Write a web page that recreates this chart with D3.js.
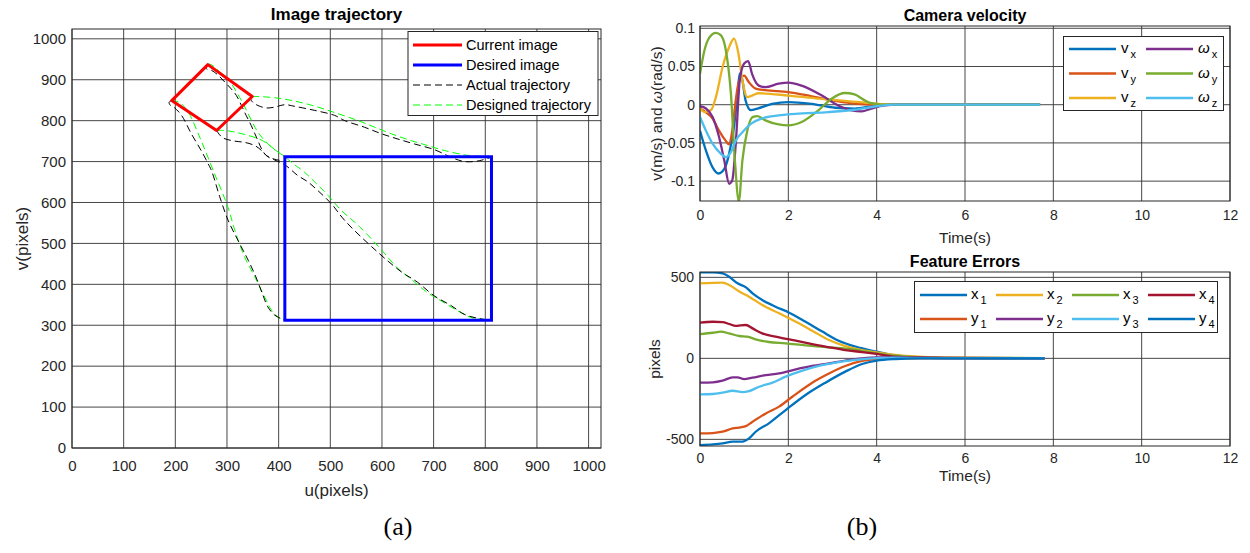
<!DOCTYPE html>
<html><head><meta charset="utf-8">
<script src="https://cdn.jsdelivr.net/npm/d3@7"></script>
<style>body{margin:0;background:#fff}</style>
</head><body><svg id="c" width="1250" height="553" xmlns="http://www.w3.org/2000/svg"></svg>
<script>
// ---------------- DATA ----------------
const uTicks=[0,100,200,300,400,500,600,700,800,900,1000];
const vTicks=[0,100,200,300,400,500,600,700,800,900,1000];
const tTicks=[0,2,4,6,8,10,12];
const velTicks=[-0.1,-0.05,0,0.05,0.1];
const errTicks=[-500,0,500];

const currentImage=[[263,937],[349,859],[280,776],[193,849]];
const desiredImage=[[412,712],[812,712],[812,312],[412,312]];

// point 1 : bottom corner -> bottom-right
const actual1=[[280,776],[283,770],[292,758],[315,750],[334,747],[354,739],[367,727],[378,713],[392,704],[412,692],[437,666],[457,650],[476,629],[502,597],[528,556],[580,492],[637,431],[669,405],[701,372],[734,348],[759,327],[785,317],[812,312]];
const designed1=[[280,776],[296,776],[315,772],[341,764],[366,753],[383,739],[399,723],[412,712],[425,698],[450,674],[470,650],[496,617],[521,581],[554,544],[595,490],[630,440],[656,413],[688,380],[714,360],[747,335],[772,319],[792,315],[812,312]];
// point 2 : right corner -> top-right
const actual2=[[349,859],[346,853],[350,845],[360,837],[376,831],[392,833],[412,839],[431,835],[470,825],[508,813],[528,800],[566,784],[599,768],[631,755],[663,743],[702,729],[733,711],[760,700],[788,702],[812,711]];
const designed2=[[349,859],[360,859],[405,854],[457,840],[508,820],[554,800],[586,784],[618,768],[657,751],[689,739],[721,727],[767,715],[812,712]];
// point 3 : top corner -> top-left
const actual3=[[263,937],[258,933],[261,926],[270,923],[283,911],[296,894],[308,878],[318,862],[328,837],[337,813],[347,788],[354,768],[360,751],[367,731],[376,715],[389,707],[402,703]];
const designed3=[[263,937],[267,938],[276,931],[286,919],[302,902],[328,849],[341,817],[354,784],[367,760],[383,739],[399,723],[412,712]];
// point 4 : left corner -> bottom-left
const actual4=[[193,849],[188,845],[190,838],[198,832],[212,813],[231,768],[250,727],[263,696],[270,678],[286,614],[302,557],[321,508],[341,459],[356,418],[370,372],[379,345],[392,325],[405,316],[412,312]];
const designed4=[[193,849],[200,848],[210,843],[225,821],[250,751],[276,670],[302,588],[315,533],[334,467],[354,418],[373,369],[386,337],[399,320],[412,312]];

// camera velocity [t, value]
const vx=[[0,-0.034],[0.135,-0.06],[0.285,-0.082],[0.42,-0.09],[0.55,-0.084],[0.66,-0.064],[0.77,-0.029],[0.85,0.014],[0.9,0.041],[0.96,0.032],[1.03,0.006],[1.15,-0.007],[1.3,-0.005],[1.63,0.001],[2.0,0.0035],[2.53,0.001],[3.06,-0.004],[3.5,-0.005],[4.0,-0.001],[4.4,0],[7.7,0]];
const vy=[[0,-0.005],[0.135,-0.01],[0.285,-0.018],[0.43,-0.034],[0.58,-0.047],[0.66,-0.052],[0.73,-0.034],[0.81,0.006],[0.88,0.03],[1.0,0.038],[1.1,0.03],[1.26,0.021],[1.48,0.019],[2.0,0.0166],[2.53,0.011],[3.06,0.005],[3.5,0.0013],[4,0],[7.7,0]];
const vz=[[0,-0.005],[0.1,-0.0096],[0.25,-0.007],[0.36,0.01],[0.51,0.049],[0.66,0.0755],[0.77,0.0865],[0.87,0.067],[0.96,0.032],[1.07,0.01],[1.18,0.012],[1.33,0.015],[2.0,0.012],[2.68,0.008],[3.28,0.005],[4,0.0013],[4.4,0],[7.7,0]];
const wx=[[0,-0.002],[0.135,-0.005],[0.285,-0.016],[0.43,-0.042],[0.55,-0.073],[0.66,-0.1035],[0.73,-0.099],[0.81,-0.051],[0.9,0.032],[1.0,0.054],[1.09,0.057],[1.18,0.04],[1.33,0.025],[1.48,0.023],[1.78,0.0275],[2.0,0.029],[2.3,0.025],[2.76,0.012],[3.13,-0.001],[3.43,-0.0074],[3.66,-0.0087],[3.88,-0.005],[4.18,-0.001],[4.48,0],[7.7,0]];
const wy=[[0,0.0406],[0.1,0.071],[0.21,0.0878],[0.36,0.094],[0.47,0.091],[0.58,0.073],[0.7,0.0144],[0.79,-0.073],[0.88,-0.126],[0.96,-0.073],[1.07,-0.034],[1.2,-0.016],[1.3,-0.015],[1.48,-0.0205],[1.78,-0.0258],[2.0,-0.027],[2.3,-0.0227],[2.68,-0.0074],[2.98,0.0079],[3.28,0.0153],[3.5,0.0135],[3.73,0.0057],[3.88,0.002],[4.18,0],[7.7,0]];
const wz=[[0,-0.016],[0.135,-0.034],[0.285,-0.051],[0.47,-0.064],[0.58,-0.0686],[0.7,-0.062],[0.81,-0.047],[0.96,-0.036],[1.15,-0.025],[1.4,-0.018],[1.78,-0.014],[2.16,-0.012],[2.9,-0.0096],[3.5,-0.0066],[4,-0.002],[4.4,0],[7.7,0]];

// feature errors [t, value]
const x1=[[0,531],[0.29,531],[0.51,525],[0.66,504],[0.85,463],[1.04,438],[1.19,401],[1.41,360],[1.71,319],[2.02,282],[2.39,226],[2.77,165],[3.14,109],[3.52,72],[4,41],[4.42,18],[4.95,6],[5.55,2],[7.8,0]];
const x2=[[0,463],[0.51,467],[0.66,453],[0.89,412],[1.11,381],[1.41,329],[1.79,278],[2.17,226],[2.54,171],[2.92,113],[3.29,76],[3.67,51],[4,37],[4.42,21],[4.95,10],[5.55,4],[7.8,0]];
const x3=[[0,150],[0.29,158],[0.47,165],[0.66,154],[0.89,138],[1.07,134],[1.26,117],[1.56,101],[1.94,93],[2.39,80],[2.92,68],[3.44,56],[4,31],[4.42,16],[4.95,6],[5.55,3],[7.8,2]];
const x4=[[0,220],[0.29,226],[0.51,224],[0.66,212],[0.81,200],[0.92,204],[1.04,206],[1.19,185],[1.41,154],[1.79,130],[2.17,109],[2.54,88],[2.92,68],[3.29,51],[3.67,39],[4,27],[4.42,10],[4.95,4],[7.8,0]];
const y1=[[0,-463],[0.29,-461],[0.51,-453],[0.74,-432],[0.92,-426],[1.04,-418],[1.19,-391],[1.49,-340],[1.79,-298],[2.09,-237],[2.54,-150],[2.92,-93],[3.29,-47],[3.67,-16],[4,-4],[4.42,0],[7.8,0]];
const y2=[[0,-150],[0.29,-148],[0.51,-138],[0.74,-117],[0.85,-117],[1.0,-128],[1.19,-119],[1.49,-103],[1.79,-93],[2.17,-68],[2.54,-47],[2.92,-31],[3.29,-14],[3.67,0],[4,6],[4.42,6],[4.95,4],[5.55,2],[7.8,0]];
const y3=[[0,-222],[0.29,-220],[0.51,-212],[0.74,-200],[0.96,-208],[1.11,-202],[1.34,-175],[1.64,-150],[1.94,-113],[2.32,-76],[2.69,-47],[3.07,-27],[3.52,-10],[4,2],[4.42,4],[4.95,2],[7.8,0]];
const y4=[[0,-535],[0.29,-531],[0.51,-525],[0.74,-514],[0.96,-514],[1.11,-494],[1.26,-453],[1.56,-401],[1.94,-319],[2.39,-226],[2.84,-150],[3.29,-82],[3.67,-35],[4,-14],[4.42,-4],[4.95,0],[7.8,0]];

// ---------------- DRAWING ----------------
const FONT='"Liberation Sans", Arial, Helvetica, sans-serif';
const AX='#262626';
const svg=d3.select('#c');
const defs=svg.append('defs');
let clipN=0;

function panel(x,y,xt,yt,o){
  const [xa,xb]=x.range(), [yb,ya]=y.range();
  const g=svg.append('g');
  const id='clip'+(clipN++);
  defs.append('clipPath').attr('id',id).append('rect').attr('x',xa).attr('y',ya).attr('width',xb-xa).attr('height',yb-ya);
  const grid=g.append('g').attr('stroke','#333').attr('stroke-width',1).attr('stroke-opacity',0.9);
  grid.selectAll('.gx').data(xt).join('line').attr('x1',d=>x(d)).attr('x2',d=>x(d)).attr('y1',ya).attr('y2',yb);
  grid.selectAll('.gy').data(yt).join('line').attr('x1',xa).attr('x2',xb).attr('y1',d=>y(d)).attr('y2',d=>y(d));
  const plot=g.append('g').attr('clip-path',`url(#${id})`);
  const axes=svg.append('g');
  const bx=axes.append('g').attr('transform',`translate(0,${yb})`)
    .call(d3.axisBottom(x).tickValues(xt).tickSize(0).tickPadding(o.padX).tickFormat(o.xFmt||(d=>String(d))));
  const by=axes.append('g').attr('transform',`translate(${xa},0)`)
    .call(d3.axisLeft(y).tickValues(yt).tickSize(0).tickPadding(o.padY).tickFormat(o.yFmt||(d=>String(d))));
  [bx,by].forEach(a=>{a.select('.domain').remove();a.attr('font-family',FONT).attr('font-size',o.fs);a.selectAll('text').attr('fill',AX);});
  axes.append('rect').attr('x',xa).attr('y',ya).attr('width',xb-xa).attr('height',yb-ya)
    .attr('fill','none').attr('stroke',AX).attr('stroke-width',1);
  axes.append('text').attr('x',(xa+xb)/2).attr('y',o.titleY).attr('text-anchor','middle')
    .attr('font-family',FONT).attr('font-weight','bold').attr('font-size',o.tfs).attr('fill','#000').text(o.title);
  axes.append('text').attr('x',(xa+xb)/2).attr('y',o.xlabY).attr('text-anchor','middle')
    .attr('font-family',FONT).attr('font-size',o.lfs).attr('fill',AX).text(o.xlab);
  const yl=axes.append('text').attr('transform',`translate(${o.ylabX},${(ya+yb)/2}) rotate(-90)`).attr('text-anchor','middle')
    .attr('font-family',FONT).attr('font-size',o.lfs).attr('fill',AX);
  if(typeof o.ylab==='function') o.ylab(yl); else yl.text(o.ylab);
  return {plot,axes};
}

// ---- (a) Image trajectory ----
const xu=d3.scaleLinear().domain([0,1024]).range([72,601]);
const yv=d3.scaleLinear().domain([0,1024]).range([448,29]);
const A=panel(xu,yv,uTicks,vTicks,{padX:12,padY:6,fs:15,tfs:17,lfs:17,title:'Image trajectory',titleY:20,
  xlab:'u(pixels)',xlabY:496,ylab:'v(pixels)',ylabX:28});
const lineUV=d3.line().x(d=>xu(d[0])).y(d=>yv(d[1])).curve(d3.curveCatmullRom.alpha(0.5));
const trajAct=[actual1,actual2,actual3,actual4], trajDes=[designed1,designed2,designed3,designed4];
trajDes.forEach(t=>A.plot.append('path').attr('d',lineUV(t)).attr('fill','none').attr('stroke','#00ff00').attr('stroke-width',1).attr('stroke-dasharray','7,4'));
trajAct.forEach(t=>A.plot.append('path').attr('d',lineUV(t)).attr('fill','none').attr('stroke','#000').attr('stroke-width',1).attr('stroke-dasharray','7,4'));
const poly=d3.line().x(d=>xu(d[0])).y(d=>yv(d[1]));
A.plot.append('path').attr('d',poly(currentImage)+'Z').attr('fill','none').attr('stroke','#ff0000').attr('stroke-width',3).attr('stroke-linejoin','round');
A.plot.append('path').attr('d',poly(desiredImage)+'Z').attr('fill','none').attr('stroke','#0000ff').attr('stroke-width',3);
{
  const lg=A.axes.append('g');
  lg.append('rect').attr('x',408).attr('y',31.5).attr('width',190).attr('height',84).attr('fill','#fff').attr('stroke',AX).attr('stroke-width',1);
  const items=[['Current image','#ff0000',3,null],['Desired image','#0000ff',3,null],['Actual trajectory','#000',1,'7,4'],['Designed trajectory','#00ff00',1,'7,4']];
  items.forEach((it,i)=>{
    const yy=45+i*20;
    lg.append('line').attr('x1',413).attr('x2',462).attr('y1',yy).attr('y2',yy).attr('stroke',it[1]).attr('stroke-width',it[2]).attr('stroke-dasharray',it[3]);
    lg.append('text').attr('x',466).attr('y',yy+5).attr('font-family',FONT).attr('font-size',14.5).attr('fill','#000').text(it[0]);
  });
}

// ---- (b) Camera velocity ----
const xt1=d3.scaleLinear().domain([0,12]).range([700,1230]);
const yvel=d3.scaleLinear().domain([-0.126,0.103]).range([201,26]);
const B=panel(xt1,yvel,tTicks,velTicks,{padX:9,padY:5,fs:14,tfs:16,lfs:15.5,title:'Camera velocity',titleY:21,
  xlab:'Time(s)',xlabY:243,ylabX:662,ylab:t=>{t.append('tspan').text('v(m/s) and ');t.append('tspan').attr('font-style','italic').text('ω');t.append('tspan').text('(rad/s)');}});
const C6=['#0072BD','#D95319','#EDB120','#7E2F8E','#77AC30','#4DBEEE','#A2142F'];
const lineV=d3.line().x(d=>xt1(d[0])).y(d=>yvel(d[1])).curve(d3.curveMonotoneX);
const velSeries=[[vx,C6[0]],[vy,C6[1]],[vz,C6[2]],[wx,C6[3]],[wy,C6[4]],[wz,C6[5]]];
velSeries.forEach(s=>B.plot.append('path').attr('d',lineV(s[0])).attr('fill','none').attr('stroke',s[1]).attr('stroke-width',2.3));
{
  const lg=B.axes.append('g');
  lg.append('rect').attr('x',1063.5).attr('y',36.5).attr('width',160).attr('height',74).attr('fill','#fff').attr('stroke',AX);
  const ent=[['v','x',C6[0],0,0],['v','y',C6[1],0,1],['v','z',C6[2],0,2],['ω','x',C6[3],1,0],['ω','y',C6[4],1,1],['ω','z',C6[5],1,2]];
  ent.forEach(e=>{
    const yy=49+e[4]*24.5, x0=e[3]?1146:1069;
    lg.append('line').attr('x1',x0).attr('x2',x0+47).attr('y1',yy).attr('y2',yy).attr('stroke',e[2]).attr('stroke-width',2.3);
    const t=lg.append('text').attr('x',x0+52).attr('y',yy+4).attr('font-family',FONT).attr('font-size',15).attr('fill','#000');
    t.append('tspan').attr('font-style',e[0]==='ω'?'italic':null).text(e[0]);
    t.append('tspan').attr('font-size',11).attr('dy',5).attr('dx',2).text(e[1]);
  });
}

// ---- (b) Feature errors ----
const xt2=d3.scaleLinear().domain([0,12]).range([700,1230]);
const yerr=d3.scaleLinear().domain([-541,533]).range([446,272]);
const D=panel(xt2,yerr,tTicks,errTicks,{padX:7,padY:6,fs:14,tfs:16,lfs:15.5,title:'Feature Errors',titleY:267,
  xlab:'Time(s)',xlabY:481,ylab:'pixels',ylabX:660});
const lineE=d3.line().x(d=>xt2(d[0])).y(d=>yerr(d[1])).curve(d3.curveMonotoneX);
const errSeries=[[x1,C6[0],'x','1'],[x2,C6[2],'x','2'],[x3,C6[4],'x','3'],[x4,C6[6],'x','4'],[y1,C6[1],'y','1'],[y2,C6[3],'y','2'],[y3,C6[5],'y','3'],[y4,C6[0],'y','4']];
errSeries.forEach(s=>D.plot.append('path').attr('d',lineE(s[0])).attr('fill','none').attr('stroke',s[1]).attr('stroke-width',2.3));
{
  const lg=D.axes.append('g');
  lg.append('rect').attr('x',914.5).attr('y',281.5).attr('width',303).attr('height',51).attr('fill','#fff').attr('stroke',AX);
  errSeries.forEach((s,i)=>{
    const col=i%4,row=Math.floor(i/4);
    const yy=295+row*24, x0=920+col*76;
    lg.append('line').attr('x1',x0).attr('x2',x0+47).attr('y1',yy).attr('y2',yy).attr('stroke',s[1]).attr('stroke-width',2.3);
    const t=lg.append('text').attr('x',x0+51).attr('y',yy+4).attr('font-family',FONT).attr('font-size',15).attr('fill','#000');
    t.append('tspan').text(s[2]);
    t.append('tspan').attr('font-size',11).attr('dy',5).attr('dx',2).text(s[3]);
  });
}

// captions
svg.append('text').attr('x',398).attr('y',535).attr('text-anchor','middle').attr('font-family','"Liberation Serif", "Times New Roman", serif').attr('font-size',26).attr('fill','#000').text('(a)');
svg.append('text').attr('x',862).attr('y',535).attr('text-anchor','middle').attr('font-family','"Liberation Serif", "Times New Roman", serif').attr('font-size',26).attr('fill','#000').text('(b)');
</script>
</body></html>
